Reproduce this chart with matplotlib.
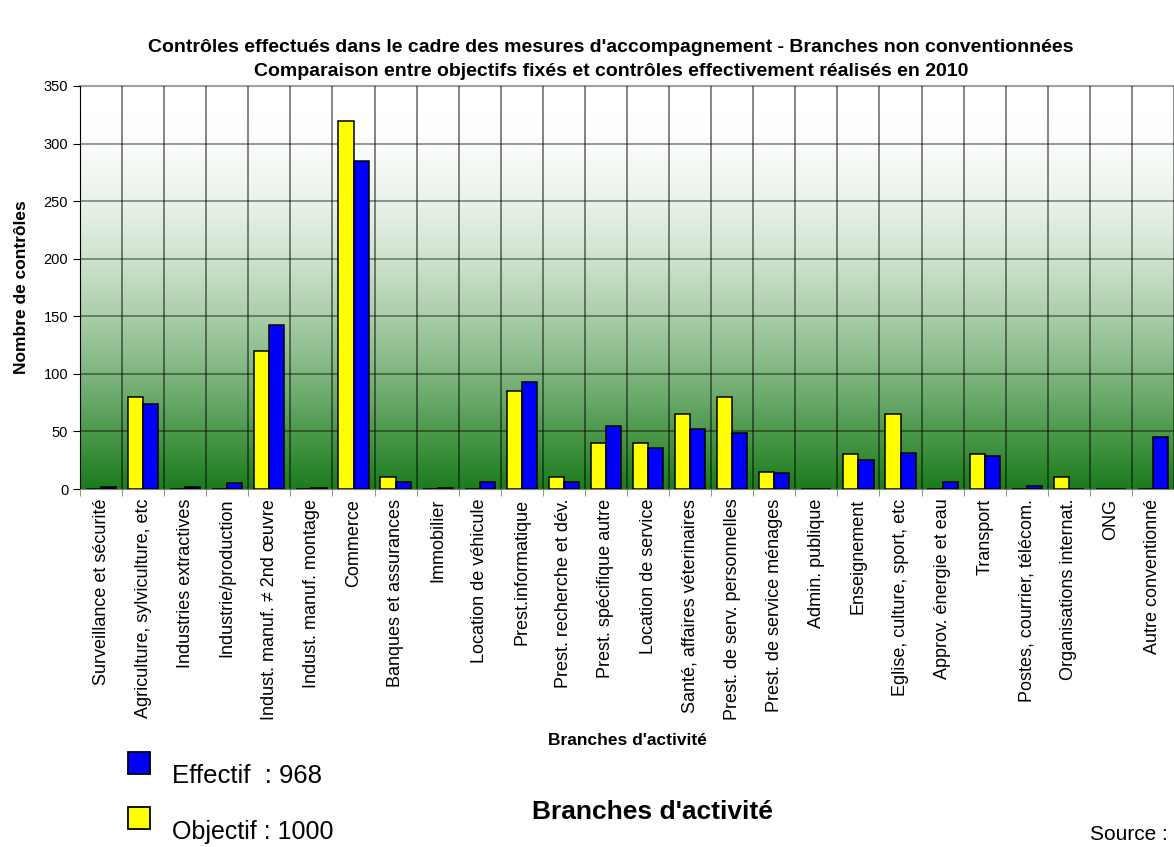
import numpy as np
import matplotlib
matplotlib.use("Agg")
import matplotlib.pyplot as plt
from matplotlib.colors import LinearSegmentedColormap
from matplotlib.patches import Rectangle

plt.rcParams['font.family'] = ['Liberation Sans', 'DejaVu Sans']

# branches d'activité, objectifs 2010 et contrôles réalisés
branches = [
    "Surveillance et sécurité",
    "Agriculture, sylviculture, etc",
    "Industries extractives",
    "Industrie/production",
    "Indust. manuf. \u2260 2nd \u0153uvre",
    "Indust. manuf. montage",
    "Commerce",
    "Banques et assurances",
    "Immobilier",
    "Location de véhicule",
    "Prest.informatique",
    "Prest. recherche et dév.",
    "Prest. spécifique autre",
    "Location de service",
    "Santé, affaires véterinaires",
    "Prest. de serv. personnelles",
    "Prest. de service ménages",
    "Admin. publique",
    "Enseignement",
    "Eglise, culture, sport, etc",
    "Approv. énergie et eau",
    "Transport",
    "Postes, courrier, télécom.",
    "Organisations internat.",
    "ONG",
    "Autre conventionné",
]
objectif = [0, 80, 0, 0, 120, 0, 320, 10, 0, 0, 85, 10, 40, 40, 65, 80, 15,
            0, 30, 65, 0, 30, 0, 10, 0, 0]
effectif = [2, 74, 2, 5, 142, 1, 285, 6, 1, 6, 93, 6, 55, 36, 52, 49, 14,
            0, 25, 31, 6, 29, 3, 0, 0, 45]
y_ticks = [0, 50, 100, 150, 200, 250, 300, 350]

n = len(branches)
x = np.arange(n)
w = 0.36

fig = plt.figure(figsize=(11.74, 8.47), dpi=100)
ax = fig.add_axes([80/1174, 1 - 489/847, 1094/1174, 403/847])
ax.set_xlim(-0.5, n - 0.5)
ax.set_ylim(0, 350)

# fond dégradé blanc -> vert
t = np.linspace(0, 1, 256)[:, None]
grad = np.sin(t * np.pi / 2)
cmap = LinearSegmentedColormap.from_list('fond', ['#1c7c1c', '#ffffff'])
ax.imshow(grad, cmap=cmap, aspect='auto', origin='lower',
          extent=(-0.5, n - 0.5, 0, 350), zorder=0, vmin=0, vmax=1)

# grille
for yv in y_ticks[1:-1]:
    ax.axhline(yv, color='black', lw=1.1, alpha=0.5, zorder=1)
ax.axhline(350, color='#a0a0a0', lw=1.5, zorder=1, clip_on=False)
for xv in np.arange(n + 1) - 0.5:
    ax.axvline(xv, color='black', lw=1.1, alpha=0.6, zorder=1)

ax.bar(x - w/2, objectif, width=w, color='#ffff00', edgecolor='black',
       linewidth=1.1, zorder=3)
ax.bar(x + w/2, effectif, width=w, color='#0000ff', edgecolor='black',
       linewidth=1.1, zorder=3)

ax.set_yticks(y_ticks)
ax.set_yticklabels([str(v) for v in y_ticks], fontsize=10.5)
ax.set_xticks(x)
ax.set_xticklabels(branches, rotation=90, fontsize=13)
ax.set_xticks(np.arange(n + 1) - 0.5, minor=True)
ax.tick_params(axis='x', which='major', length=0, pad=7)
ax.tick_params(axis='x', which='minor', length=5, color='#808080')
ax.tick_params(axis='y', length=5, color='black')
for s in ['top', 'right']:
    ax.spines[s].set_visible(False)
ax.spines['left'].set_color('black')
ax.spines['bottom'].set_color('#808080')

ax.set_ylabel("Nombre de contrôles", fontsize=12.5, fontweight='bold')
ax.yaxis.set_label_coords(-0.047, 0.5)
fig.text(627/1174, 1 - 740/847, "Branches d'activité", fontsize=12.5,
         fontweight='bold', ha='center', va='center')

fig.text(611/1174, 1 - 48/847,
         "Contrôles effectués dans le cadre des mesures d'accompagnement - Branches non conventionnées",
         fontsize=14, fontweight='bold', ha='center', va='center')
fig.text(611/1174, 1 - 71/847,
         "Comparaison entre objectifs fixés et contrôles effectivement réalisés en 2010",
         fontsize=14, fontweight='bold', ha='center', va='center')

# légende
fig.patches.append(Rectangle((128/1174, 1 - 774/847), 22/1174, 22/847,
                             transform=fig.transFigure, facecolor='#0000ff',
                             edgecolor='black', lw=1.3))
fig.patches.append(Rectangle((128/1174, 1 - 829/847), 22/1174, 22/847,
                             transform=fig.transFigure, facecolor='#ffff00',
                             edgecolor='black', lw=1.3))
fig.text(172/1174, 1 - 776/847, "Effectif  : 968", fontsize=18.5, ha='left', va='center')
fig.text(172/1174, 1 - 832/847, "Objectif : 1000", fontsize=18, ha='left', va='center')
fig.text(652/1174, 1 - 812/847, "Branches d'activité", fontsize=19,
         fontweight='bold', ha='center', va='center')
fig.text(1090/1174, 1 - 844/847, "Source :", fontsize=15, ha='left', va='bottom')

fig.savefig('out.png', dpi=100, facecolor='white')
